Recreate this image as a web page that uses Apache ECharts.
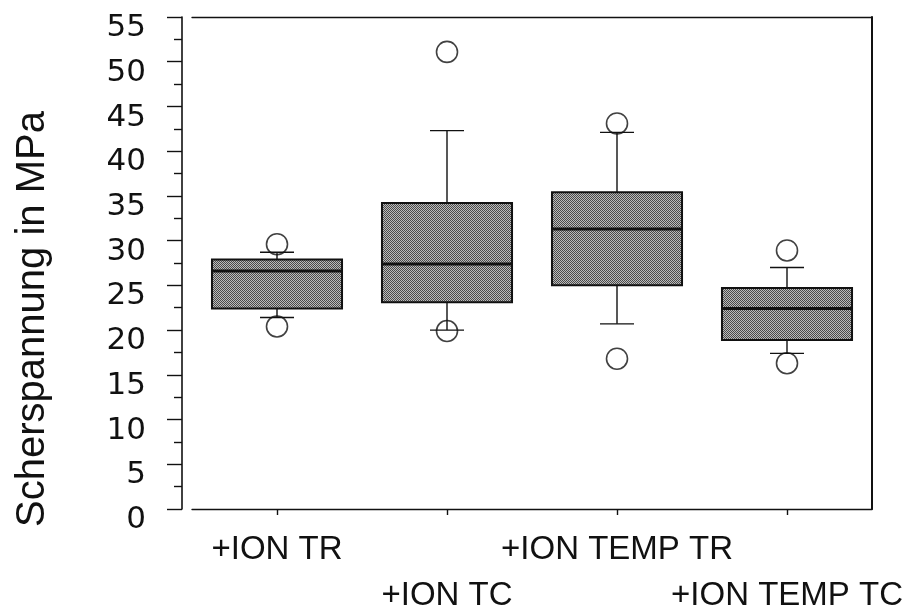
<!DOCTYPE html>
<html>
<head>
<meta charset="utf-8">
<script src="https://cdn.jsdelivr.net/npm/echarts@6/dist/echarts.min.js"></script>
<style>
  html, body { margin: 0; padding: 0; background: #fff; }
  #chart { width: 909px; height: 612px; }
</style>
</head>
<body>
<div id="chart"></div>
<script>
const categories = ["+ION TR", "+ION TC", "+ION TEMP TR", "+ION TEMP TC"];
const whiskerLow = [21.4, 20.0, 20.7, 17.4];
const q1 = [22.4, 23.1, 25.0, 18.9];
const median = [26.6, 27.4, 31.3, 22.4];
const q3 = [27.9, 34.2, 35.4, 24.7];
const whiskerHigh = [28.7, 42.3, 42.1, 27.0];
const outliers = [
  [0, 29.6], [0, 20.4],
  [1, 51.1], [1, 19.9],
  [2, 43.1], [2, 16.8],
  [3, 28.9], [3, 16.3],
];
const yTicks = { min: 0, max: 55, step: 5 };

const ink = "#111";

// dotted screen texture for the boxes
const tex = document.createElement("canvas");
tex.width = tex.height = 2;
const tctx = tex.getContext("2d");
tctx.fillStyle = "#bbb";
tctx.fillRect(0, 0, 2, 2);
tctx.fillStyle = "#4a4a4a";
tctx.fillRect(0, 0, 1, 1);
tctx.fillRect(1, 1, 1, 1);

const boxRows = categories.map((c, i) => [i, whiskerLow[i], q1[i], median[i], q3[i], whiskerHigh[i]]);

function renderBox(params, api) {
  const x = api.value(0);
  const band = api.size([1, 0])[0];
  const bw = band * 0.765;
  const cw = band * 0.2;
  const lo = api.coord([x, api.value(1)]);
  const b1 = api.coord([x, api.value(2)]);
  const md = api.coord([x, api.value(3)]);
  const b3 = api.coord([x, api.value(4)]);
  const hi = api.coord([x, api.value(5)]);
  const cx = lo[0];
  const line = (x1, y1, x2, y2, w) => ({
    type: "line",
    shape: { x1, y1, x2, y2 },
    style: { stroke: ink, lineWidth: w },
  });
  return {
    type: "group",
    children: [
      line(cx, b3[1], cx, hi[1], 1.4),
      line(cx, b1[1], cx, lo[1], 1.4),
      line(cx - cw / 2, hi[1], cx + cw / 2, hi[1], 1.4),
      line(cx - cw / 2, lo[1], cx + cw / 2, lo[1], 1.4),
      {
        type: "rect",
        shape: { x: cx - bw / 2, y: b3[1], width: bw, height: b1[1] - b3[1] },
        style: { fill: { image: tex, repeat: "repeat" }, stroke: ink, lineWidth: 2 },
      },
      line(cx - bw / 2, md[1], cx + bw / 2, md[1], 3),
    ],
  };
}

const chart = echarts.init(document.getElementById("chart"));

chart.setOption({
  backgroundColor: "#fff",
  animation: false,
  grid: { left: 192, right: 37, top: 17, bottom: 100 },
  xAxis: [
    {
      type: "category",
      data: categories,
      axisLine: { onZero: false, lineStyle: { color: ink, width: 1.4 } },
      axisTick: { show: true, alignWithLabel: true, length: 6, lineStyle: { color: ink, width: 1.4 } },
      axisLabel: {
        interval: 0,
        margin: 24,
        color: ink,
        fontFamily: "Liberation Sans",
        fontSize: 33,
        formatter: (v, i) => (i % 2 ? `{b|${v}}` : `{a|${v}}`),
        rich: {
          a: { fontSize: 33, fontFamily: "Liberation Sans", color: ink },
          b: { fontSize: 33, fontFamily: "Liberation Sans", color: ink, padding: [46, 0, 0, 0] },
        },
      },
    },
    {
      type: "category",
      position: "top",
      data: categories,
      axisLine: { show: true, onZero: false, lineStyle: { color: ink, width: 1.4 } },
      axisTick: { show: false },
      axisLabel: { show: false },
    },
  ],
  yAxis: [
    {
      type: "value",
      min: yTicks.min,
      max: yTicks.max,
      interval: yTicks.step,
      offset: 10,
      axisLine: { show: true, onZero: false, lineStyle: { color: ink, width: 1.6 } },
      axisTick: { show: true, length: 15, lineStyle: { color: ink, width: 1.4 } },
      minorTick: { show: true, splitNumber: 2, length: 8, lineStyle: { color: ink, width: 1.4 } },
      axisLabel: {
        margin: 36,
        formatter: (v) => `{v|${v}}`,
        rich: {
          v: { color: ink, fontFamily: "DejaVu Sans", fontSize: 31, padding: [22, 0, 0, 0] },
        },
      },
      splitLine: { show: false },
    },
    {
      type: "value",
      position: "right",
      min: yTicks.min,
      max: yTicks.max,
      axisLine: { show: true, onZero: false, lineStyle: { color: ink, width: 2 } },
      axisTick: { show: false },
      axisLabel: { show: false },
      splitLine: { show: false },
    },
  ],
  graphic: [
    {
      type: "text",
      x: 33,
      y: 319,
      rotation: Math.PI / 2,
      style: {
        text: "Scherspannung in MPa",
        fontFamily: "Liberation Sans",
        fontSize: 40,
        fill: ink,
        textAlign: "center",
        textVerticalAlign: "middle",
      },
    },
  ],
  series: [
    {
      type: "custom",
      renderItem: renderBox,
      encode: { x: 0, y: [1, 2, 3, 4, 5] },
      data: boxRows,
      z: 2,
    },
    {
      type: "scatter",
      data: outliers,
      symbol: "circle",
      symbolSize: 21,
      itemStyle: { color: "rgba(0,0,0,0)", borderColor: ink, borderWidth: 1.6 },
      z: 3,
    },
  ],
});
</script>
</body>
</html>
